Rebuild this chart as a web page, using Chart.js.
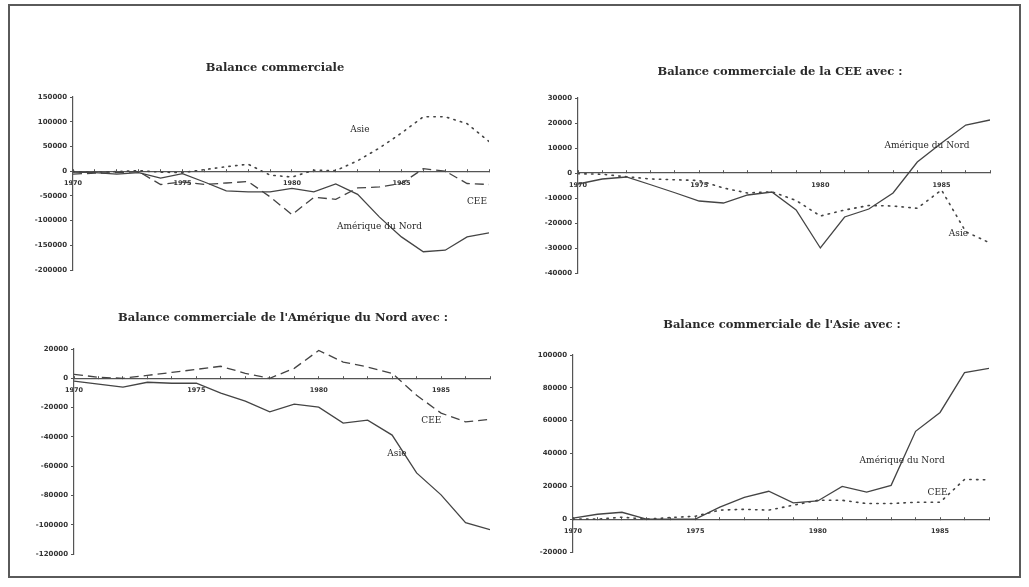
<!DOCTYPE html>
<html>
<head>
<meta charset="utf-8">
<script src="https://cdn.jsdelivr.net/npm/chart.js@4.4.1/dist/chart.umd.min.js"></script>
<style>
  html, body { margin: 0; padding: 0; background: #fff; }
  #page { position: relative; width: 1029px; height: 587px; overflow: hidden; background: #fff; }
  #frame { position: absolute; left: 8px; top: 4px; width: 1013px; height: 574px; border: 2px solid #5a5a5a; box-sizing: border-box; }
  canvas { position: absolute; }
</style>
</head>
<body>
<div id="page">
  <div id="frame"></div>
  <canvas id="world" style="left:0;top:0" width="514" height="293"></canvas>
  <canvas id="cee" style="left:514px;top:0" width="515" height="293"></canvas>
  <canvas id="nord" style="left:0;top:293px" width="514" height="294"></canvas>
  <canvas id="asie" style="left:514px;top:293px" width="515" height="294"></canvas>
</div>
<script>
// Years on the horizontal axes
const yearsLong  = [1970, 1971, 1972, 1973, 1974, 1975, 1976, 1977, 1978, 1979,
                    1980, 1981, 1982, 1983, 1984, 1985, 1986, 1987, 1988, 1989];
const yearsShort = [1970, 1971, 1972, 1973, 1974, 1975, 1976, 1977, 1978, 1979,
                    1980, 1981, 1982, 1983, 1984, 1985, 1986, 1987];

// Balance commerciale (1970-1989)
const balAmeriqueNord = [-2000, -3000, -6000, -3000, -14000, -5000, -22000, -40000, -42000, -42000,
                         -35000, -42000, -26000, -47000, -93000, -133000, -163000, -160000, -133000, -125000];
const balCEE          = [-6000, -4000, -3000, -1000, -27000, -22000, -27000, -24000, -21000, -52000,
                         -88000, -53000, -57000, -34000, -32000, -25000, 5000, 0, -25000, -27000];
const balAsie         = [-1000, -2000, -1000, 1000, -2000, -3000, 3000, 9000, 14000, -8000,
                         -12000, 2000, 1000, 21000, 47000, 77000, 110000, 110000, 96000, 60000];

// Balance commerciale de la CEE avec : (1970-1987)
const ceeAmeriqueNord = [-4400, -2400, -1600, -4700, -7900, -11200, -12000, -8800, -7600, -14800,
                         -30000, -17600, -14400, -8000, 4400, 12000, 19200, 21200];
const ceeAsie         = [-300, -500, -1500, -2400, -2700, -3000, -6000, -8000, -7500, -11000,
                         -17200, -14800, -13000, -13200, -14100, -6800, -23500, -28000];

// Balance commerciale de l'Amérique du Nord avec : (1970-1987)
const nordAsie = [-2000, -4000, -6000, -2700, -3400, -3400, -10200, -15600, -22900, -17700,
                  -19700, -30600, -28600, -38800, -64600, -79600, -98600, -103400];
const nordCEE  = [2700, 700, 0, 2000, 4000, 6100, 8200, 3400, 0, 6800,
                  19000, 11100, 7700, 3400, -11600, -23800, -29700, -28100];

// Balance commerciale de l'Asie avec : (1970-1987)
const asieAmeriqueNord = [600, 3000, 4200, 0, 0, 0, 7300, 13300, 17000, 9900,
                          11100, 20000, 16500, 20600, 53500, 65000, 89300, 91900];
const asieCEE          = [0, 0, 1200, 0, 1000, 1800, 5500, 6000, 5500, 8500,
                          11500, 11500, 9500, 9500, 10300, 10300, 24200, 24000];

// Y-axis tick ranges
const ticksWorld = { min: -200000, max: 150000, step: 50000 };
const ticksCEE   = { min: -40000,  max: 30000,  step: 10000 };
const ticksNord  = { min: -120000, max: 20000,  step: 20000 };
const ticksAsie  = { min: -20000,  max: 100000, step: 20000 };

const INK = '#444';
const AXIS = '#555';
const STYLE = {
  solid:  [],
  dashed: [9, 5],
  dotted: [1.4, 5.4]
};

function toPoints(years, values) {
  return years.map((yr, i) => ({ x: yr, y: values[i] }));
}

// Draws the panel title and the series name labels next to the curves
const panelText = {
  id: 'panelText',
  afterDraw(chart, args, opts) {
    const ctx = chart.ctx;
    ctx.save();
    ctx.fillStyle = '#2a2a2a';
    ctx.textAlign = 'center';
    ctx.textBaseline = 'middle';
    ctx.font = 'bold 11.5px "DejaVu Serif"';
    ctx.fillText(opts.title, opts.titleX, opts.titleY);
    ctx.font = '9px "DejaVu Serif"';
    const xs = chart.scales.x, ys = chart.scales.y;
    for (const n of opts.notes) {
      ctx.fillText(n.text, xs.getPixelForValue(n.year), ys.getPixelForValue(n.value));
    }
    ctx.restore();
  }
};

function makePanel(id, p) {
  new Chart(document.getElementById(id), {
    type: 'line',
    data: {
      datasets: p.series.map(s => ({
        label: s.label,
        data: toPoints(p.years, s.values),
        borderColor: INK,
        borderWidth: s.style === 'dotted' ? 1.6 : 1.3,
        borderDash: STYLE[s.style],
        borderCapStyle: s.style === 'dotted' ? 'round' : 'butt',
        pointRadius: 0,
        tension: 0,
        fill: false
      }))
    },
    plugins: [panelText],
    options: {
      responsive: false,
      animation: false,
      devicePixelRatio: 1,
      layout: { padding: p.padding },
      plugins: {
        legend: { display: false },
        tooltip: { enabled: false },
        panelText: { title: p.title, titleX: p.titleX, titleY: p.titleY, notes: p.notes }
      },
      scales: {
        x: {
          type: 'linear',
          position: { y: 0 },
          min: p.years[0],
          max: p.years[p.years.length - 1],
          border: { display: true, color: AXIS, width: 1.2 },
          grid: { display: true, drawOnChartArea: false, color: AXIS, tickLength: -3, lineWidth: 1 },
          ticks: {
            stepSize: 1,
            autoSkip: false,
            maxRotation: 0,
            padding: 11,
            color: '#333',
            font: { family: 'DejaVu Sans', size: 6.5, weight: 'bold' },
            callback: v => (v % 5 === 0 ? String(v) : '')
          }
        },
        y: {
          type: 'linear',
          min: p.ticks.min,
          max: p.ticks.max,
          afterFit: scale => { scale.width = p.axisWidth; },
          border: { display: true, color: AXIS, width: 1.2 },
          grid: { display: true, drawOnChartArea: false, color: AXIS, tickLength: 3, lineWidth: 1 },
          ticks: {
            stepSize: p.ticks.step,
            padding: 3,
            color: '#333',
            font: { family: 'DejaVu Sans', size: 7, weight: 'bold' },
            callback: v => String(v)
          }
        }
      }
    }
  });
}

makePanel('world', {
  years: yearsLong,
  ticks: ticksWorld,
  axisWidth: 73,
  padding: { top: 97, right: 25, bottom: 23, left: 0 },
  title: 'Balance commerciale', titleX: 275, titleY: 68,
  series: [
    { label: 'Amérique du Nord', values: balAmeriqueNord, style: 'solid' },
    { label: 'CEE', values: balCEE, style: 'dashed' },
    { label: 'Asie', values: balAsie, style: 'dotted' }
  ],
  notes: [
    { text: 'Asie', year: 1983.1, value: 83000 },
    { text: 'CEE', year: 1988.45, value: -62000 },
    { text: 'Amérique du Nord', year: 1984.0, value: -113000 }
  ]
});

makePanel('cee', {
  years: yearsShort,
  ticks: ticksCEE,
  axisWidth: 64,
  padding: { top: 98, right: 39, bottom: 20, left: 0 },
  title: 'Balance commerciale de la CEE avec :', titleX: 266, titleY: 72,
  series: [
    { label: 'Amérique du Nord', values: ceeAmeriqueNord, style: 'solid' },
    { label: 'Asie', values: ceeAsie, style: 'dotted' }
  ],
  notes: [
    { text: 'Amérique du Nord', year: 1984.4, value: 10800 },
    { text: 'Asie', year: 1985.7, value: -24400 }
  ]
});

makePanel('nord', {
  years: yearsShort,
  ticks: ticksNord,
  axisWidth: 74,
  padding: { top: 56, right: 24, bottom: 33, left: 0 },
  title: "Balance commerciale de l'Amérique du Nord avec :", titleX: 283, titleY: 25,
  series: [
    { label: 'Asie', values: nordAsie, style: 'solid' },
    { label: 'CEE', values: nordCEE, style: 'dashed' }
  ],
  notes: [
    { text: 'CEE', year: 1984.6, value: -28600 },
    { text: 'Asie', year: 1983.2, value: -51700 }
  ]
});

makePanel('asie', {
  years: yearsShort,
  ticks: ticksAsie,
  axisWidth: 59,
  padding: { top: 62, right: 40, bottom: 35, left: 0 },
  title: "Balance commerciale de l'Asie avec :", titleX: 268, titleY: 32,
  series: [
    { label: 'Amérique du Nord', values: asieAmeriqueNord, style: 'solid' },
    { label: 'CEE', values: asieCEE, style: 'dotted' }
  ],
  notes: [
    { text: 'Amérique du Nord', year: 1983.45, value: 35750 },
    { text: 'CEE', year: 1984.9, value: 16400 }
  ]
});
</script>
</body>
</html>
